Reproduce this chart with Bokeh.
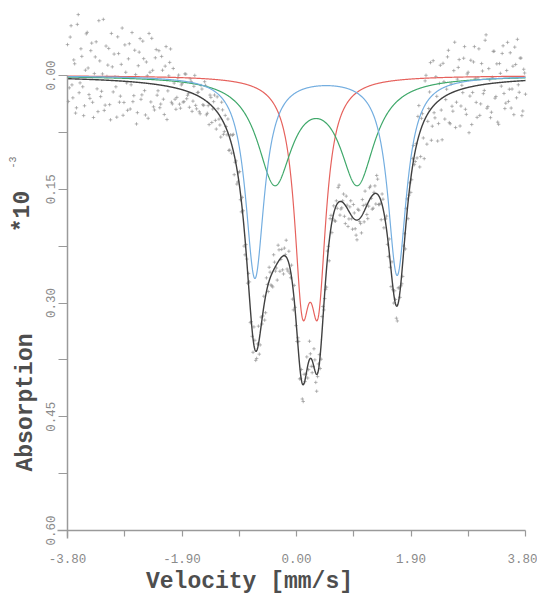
import numpy as np
from bokeh.plotting import figure
from bokeh.models import Range1d, FixedTicker, Label
from bokeh.embed import file_html
from bokeh.resources import INLINE

# ---- axis data -------------------------------------------------------------
v_start, v_end = -3.80, 3.80
x_ticks = [-3.80, -1.90, 0.00, 1.90, 3.80]
x_minor_ticks = [-2.85, -0.95, 0.95, 2.85]
x_tick_labels = ["-3.80", "-1.90", "0.00", "1.90", "3.80"]
y_ticks = [0.00, 0.15, 0.30, 0.45, 0.60]
y_minor_ticks = [0.075, 0.225, 0.375, 0.525]
y_tick_labels = ["0.00", "0.15", "0.30", "0.45", "0.60"]

# ---- fitted doublets: line positions [mm/s], depths, half widths ----------
red_pos = [0.095, 0.36]
red_depth = [0.252, 0.252]
red_hwhm = 0.16
blue_pos = [-0.69, 1.67]
blue_depth = [0.266, 0.262]
blue_hwhm = 0.19
green_pos = [-0.36, 1.01]
green_depth = [0.137, 0.137]
green_hwhm = 0.35

# ---- measured points: deviation from the total fit (x 1e-3) ---------------
# even channels
scatter_offsets_even = [
    -45, 12, -70, 25, -20, 38, -85, 5, -30, 48, -12, -62, 20, -38, 30, -8,
    -50, 42, -25, 15, -80, 33, -5, -42, 52, -18, -35, 8, -58, 28, -22, 45,
    -48, 2, -30, 36, -65, 18, -10, 40, -40, 22, -55, 10, -28, 46, -15, -60,
    30, -35, 14, -45, 25, -20, 38, -52, 6, -32, 20, -25, 15,
    12, -18, 25, -8, 15, -22, 5, 20, -15, 10, -25, 18, -5, 22, -12, 8,
    -20, 15, 28, -10, 3, -18, 24, -6, 12, -22, 16, -14, 6, 20, -8, -16,
    26, -4, 10, -20, 14, -10, 22, -2, -15, 18, 8, -24, 12, -6, 20, -12,
    4, 25, -18, 10, -8, 16, -20, 6, 22, -14, 2, 18, -10, -22, 14, 8,
    -16, 24, -4, 12, -18, 6, 20, -12, -2, 16, -24, 10, 4, -14, 22, -8,
    18, -20, 6, 12, -10, 26, -16, 2, 14, -6, -20, 18, 8, -12, 24, -4,
    10, -18, 16, -8, 20, -14, 4, 22, -10, -24, 12, 6, -16, 18, -2, 14,
    -20, 10, 24, -12, 2, -18, 16, 8, -22, 12, -6, 20, -14, 4, 18, -10,
    -16, 22, -4, 10, -20, 14,
    20, -40, 35, -15, 50, -55, 10, -25, 42, -60, 18, -8, 30, -45, 55, -20,
    5, -50, 38, -12, 25, -65, 15, -30, 48, -5, -40, 28, -18, 60, -35, 8,
    -52, 22, -10, 40, -28, 12, -58, 32, -20, 45, -8, -42, 18, 52, -25, 5,
    -48, 35, -15, 26, -38, 10, 44, -22, -55, 15, -30, 40, -10,
]
# odd channels
scatter_offsets_odd = [
    30, -55, 8, -25, 45, -72, 18, -40, 10, 35, -60, -15, 25, -48, 50, -30,
    12, -78, 22, -8, 40, -45, -20, 32, -62, 15, -5, 48, -36, 20, -70, 28,
    -12, 38, -50, 4, 26, -42, 55, -22, -58, 16, -32, 42, -10, -66, 24, -18,
    34, -46, 8, 30, -38, 18, -26, 44, -14, -50, 22, -6, 28,
    -14, 20, -6, 16, -22, 10, 2, -18, 24, -10, 14, -4, 20, -16, 8, -24,
    18, 4, -12, 22, -8, 14, -20, 6, 26, -14, 10, -2, -18, 16, 12, -22,
    4, 20, -10, 8, -16, 24, -6, 14, -20, 2, 18, -12, 10, -24, 16, 6,
    -14, 22, -4, -18, 12, 20, -8, 4, -22, 16, -10, 24, -2, 14, -16, 8,
    20, -20, 6, -8, 18, -14, 22, 2, -18, 10, -6, 16, -24, 12, 4, -12,
    20, -16, 8, 24, -4, -20, 14, -10, 18, 6, -22, 10, -2, 16, -14, 22,
    -8, 4, -18, 12, 26, -12, 8, -20, 14, -4, 20, -16, 2, 18, -10, -24,
    12, 6, -14, 20, -6, 10, -18, 22, 4, -12, 16, -20, 8, 14, -8, 24,
    -16, 2, 18, -10, 12, -4,
    -30, 45, -12, 20, -50, 38, -5, -62, 25, 10, -35, 52, -22, 15, -45, 30,
    -8, -58, 40, 18, -28, 48, -15, -40, 22, 5, -55, 35, -20, 12, 50, -32,
    -10, 42, -48, 25, -18, 8, -65, 30, -5, 38, -42, 20, -25, 55, -12, -38,
    15, 28, -52, 10, 35, -20, -45, 22, 5, -30, 46, -15, 18,
]

# ---- colours / fonts -------------------------------------------------------
RED = "#e6625d"
BLUE = "#74aee0"
GREEN = "#3fa86a"
TOTAL = "#404040"
POINTS = "#909090"
AXIS = "#9a9a9a"
TEXT = "#4e4e4e"
FONT = "Liberation Mono"

# ---- layout (pixels in the 537x596 picture) -------------------------------
W, H = 537, 596
px_v_start, px_v_end = 67, 525       # where -3.80 and 3.80 fall
px_a0, px_a60 = 75, 530              # where 0.00 and 0.60 fall


def doublet(v, pos, depth, hwhm):
    out = np.zeros_like(v)
    for p0, d in zip(pos, depth):
        out += d * hwhm ** 2 / ((v - p0) ** 2 + hwhm ** 2)
    return out


def total_fit(v):
    return (doublet(v, red_pos, red_depth, red_hwhm)
            + doublet(v, blue_pos, blue_depth, blue_hwhm)
            + doublet(v, green_pos, green_depth, green_hwhm))


v = np.linspace(v_start, v_end, 1521)
red = doublet(v, red_pos, red_depth, red_hwhm)
blue = doublet(v, blue_pos, blue_depth, blue_hwhm)
green = doublet(v, green_pos, green_depth, green_hwhm)
total = red + blue + green

n_even = len(scatter_offsets_even)
n_odd = len(scatter_offsets_odd)
offsets = np.empty(n_even + n_odd)
offsets[0::2] = scatter_offsets_even[: (n_even + n_odd + 1) // 2]
offsets[1::2] = scatter_offsets_odd[: (n_even + n_odd) // 2]
vp = np.linspace(v_start, v_end, len(offsets))
data_p = total_fit(vp) + offsets * 1e-3

# ranges so that the frame fills the whole canvas
ppv = (px_v_end - px_v_start) / (v_end - v_start)
ppa = (px_a60 - px_a0) / 0.60
x_lo = v_start - px_v_start / ppv
x_hi = v_end + (W - px_v_end) / ppv
y_top = 0.0 - px_a0 / ppa
y_bot = 0.60 + (H - px_a60) / ppa

p = figure(width=W, height=H,
           x_range=Range1d(x_lo, x_hi), y_range=Range1d(y_bot, y_top),
           output_backend="svg", toolbar_location=None,
           min_border=0, min_border_left=0, min_border_right=0,
           min_border_top=0, min_border_bottom=0)
p.outline_line_color = None
p.xgrid.visible = False
p.ygrid.visible = False

p.scatter(vp, data_p, marker="cross", size=3.5, line_color=POINTS,
          line_width=1, alpha=0.65)
p.line(v, red, line_color=RED, line_width=1.2)
p.line(v, green, line_color=GREEN, line_width=1.2)
p.line(v, blue, line_color=BLUE, line_width=1.2)
p.line(v, total, line_color=TOTAL, line_width=1.4)

# x axis, pinned at absorption 0.60
xa = p.xaxis[0]
xa.fixed_location = 0.60
xa.bounds = (v_start - 10 / ppv, v_end)
xa.ticker = FixedTicker(ticks=x_ticks, minor_ticks=x_minor_ticks)
xa.major_label_overrides = {t: s for t, s in zip(x_ticks, x_tick_labels)}
xa.axis_line_color = AXIS
xa.axis_line_width = 1.5
xa.major_tick_line_color = AXIS
xa.minor_tick_line_color = AXIS
xa.major_tick_line_width = 1.2
xa.minor_tick_line_width = 1.2
xa.major_tick_in = 0
xa.major_tick_out = 6
xa.minor_tick_in = 0
xa.minor_tick_out = 6
xa.major_label_standoff = 17
xa.major_label_text_font = FONT
xa.major_label_text_font_size = "12.5px"
xa.major_label_text_color = "#8a8a8a"

# y axis, pinned at velocity -3.80
ya = p.yaxis[0]
ya.fixed_location = v_start
ya.bounds = (0.0, 0.60 + 8 / ppa)
ya.ticker = FixedTicker(ticks=y_ticks, minor_ticks=y_minor_ticks)
ya.major_label_overrides = {t: s for t, s in zip(y_ticks, y_tick_labels)}
ya.axis_line_color = AXIS
ya.axis_line_width = 1.5
ya.major_tick_line_color = AXIS
ya.minor_tick_line_color = AXIS
ya.major_tick_line_width = 1.2
ya.minor_tick_line_width = 1.2
ya.major_tick_in = 0
ya.major_tick_out = 9
ya.minor_tick_in = 0
ya.minor_tick_out = 9
ya.major_label_orientation = "vertical"
ya.major_label_standoff = 4
ya.major_label_text_font = FONT
ya.major_label_text_font_size = "12.5px"
ya.major_label_text_color = "#8a8a8a"

# axis titles (screen positions measured from the bottom-left of the canvas)
common = dict(x_units="screen", y_units="screen", text_font=FONT,
              text_font_style="bold", text_color=TEXT,
              text_align="center", text_baseline="middle")
p.add_layout(Label(x=249, y=H - 581, text="Velocity [mm/s]",
                   text_font_size="23px", **common))
p.add_layout(Label(x=25, y=H - 402, text="Absorption", angle=np.pi / 2,
                   text_font_size="23px", **common))
p.add_layout(Label(x=22, y=H - 211, text="*10", angle=np.pi / 2,
                   text_font_size="23px", **common))
p.add_layout(Label(x=12, y=H - 162, text="-3", angle=np.pi / 2,
                   text_font_size="10px",
                   **{**common, "text_font_style": "normal",
                      "text_color": "#777777"}))

open("out.html", "w").write(file_html(p, INLINE))
